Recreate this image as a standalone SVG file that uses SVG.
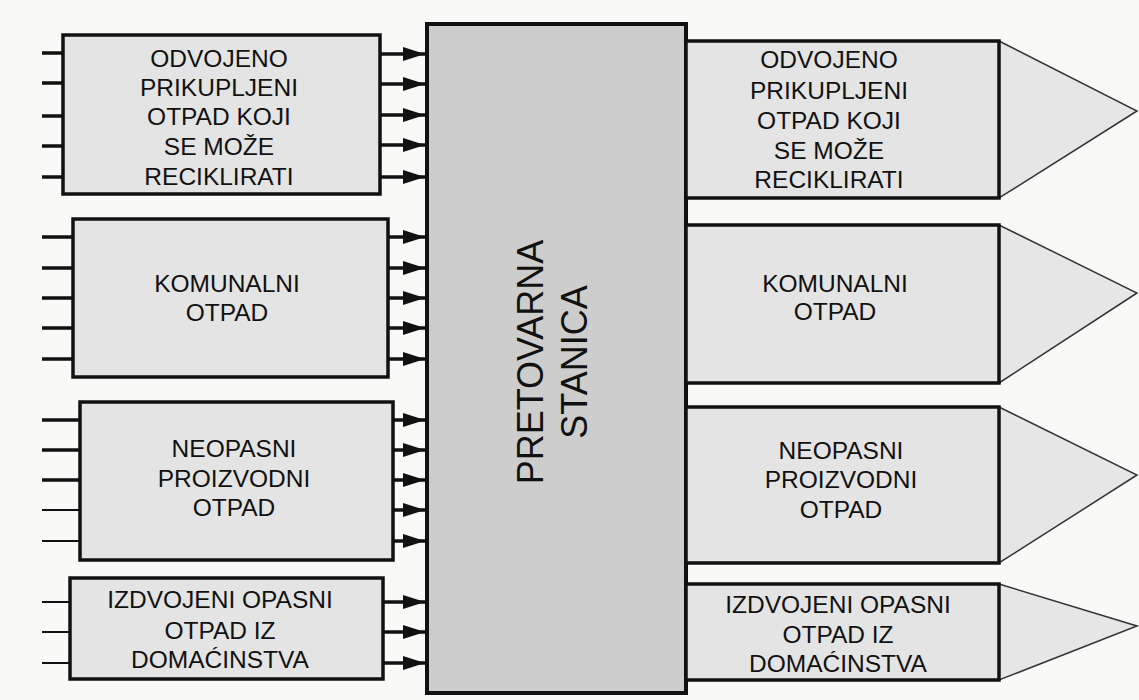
<svg xmlns="http://www.w3.org/2000/svg" width="1139" height="700" viewBox="0 0 1139 700">
<style>
.box{fill:#e4e4e4;stroke:#111;stroke-width:3.5}
.center{fill:#cdcdcd;stroke:#111;stroke-width:4}
.tri{fill:#e6e6e6;stroke:#333;stroke-width:1.5}
.lbl{font-family:"Liberation Sans",Arial,sans-serif;font-size:24.5px;fill:#111;text-anchor:middle}
.big{font-family:"Liberation Sans",Arial,sans-serif;font-size:36px;fill:#111;text-anchor:middle}
.stub{stroke:#111;stroke-width:3.5;fill:none}
.thin{stroke:#111;stroke-width:2.2;fill:none}
.arr{stroke:#111;stroke-width:3.5;fill:none;marker-end:url(#ah)}
</style>
<defs>
<marker id="ah" markerUnits="userSpaceOnUse" markerWidth="23" markerHeight="15" refX="22" refY="7" orient="auto">
<path d="M0,0 L22,7 L0,14 z" fill="#111"/>
</marker>
</defs>
<rect width="1139" height="700" fill="#f9f9f7"/>

<g id="center-node">
<rect class="center" x="427" y="24" width="259" height="669"/>
<text class="big" transform="translate(543,362) rotate(-90)">PRETOVARNA</text>
<text class="big" transform="translate(587,362) rotate(-90)">STANICA</text>
</g>

<g id="in1">
<rect class="box" x="63" y="35" width="317" height="159"/>
<text class="lbl" x="219" y="67">ODVOJENO</text>
<text class="lbl" x="219" y="96">PRIKUPLJENI</text>
<text class="lbl" x="219" y="125">OTPAD KOJI</text>
<text class="lbl" x="219" y="155">SE MOŽE</text>
<text class="lbl" x="219" y="185">RECIKLIRATI</text>
</g>
<g id="in2">
<rect class="box" x="73" y="219" width="315" height="158"/>
<text class="lbl" x="227" y="292">KOMUNALNI</text>
<text class="lbl" x="227" y="321">OTPAD</text>
</g>
<g id="in3">
<rect class="box" x="80" y="402" width="313" height="158"/>
<text class="lbl" x="234" y="457">NEOPASNI</text>
<text class="lbl" x="234" y="487">PROIZVODNI</text>
<text class="lbl" x="234" y="516">OTPAD</text>
</g>
<g id="in4">
<rect class="box" x="70" y="578" width="313" height="101"/>
<text class="lbl" x="220" y="608">IZDVOJENI OPASNI</text>
<text class="lbl" x="220" y="639">OTPAD IZ</text>
<text class="lbl" x="220" y="668">DOMAĆINSTVA</text>
</g>

<g id="out1">
<polygon class="tri" points="999,41 1137,111 999,198"/>
<rect class="box" x="686" y="41" width="313" height="157"/>
<text class="lbl" x="829" y="68">ODVOJENO</text>
<text class="lbl" x="829" y="99">PRIKUPLJENI</text>
<text class="lbl" x="829" y="129">OTPAD KOJI</text>
<text class="lbl" x="829" y="159">SE MOŽE</text>
<text class="lbl" x="829" y="188">RECIKLIRATI</text>
</g>
<g id="out2">
<polygon class="tri" points="999,225 1137,293 999,383"/>
<rect class="box" x="686" y="225" width="313" height="158"/>
<text class="lbl" x="835" y="292">KOMUNALNI</text>
<text class="lbl" x="835" y="320">OTPAD</text>
</g>
<g id="out3">
<polygon class="tri" points="999,407 1137,475 999,563"/>
<rect class="box" x="686" y="407" width="313" height="156"/>
<text class="lbl" x="841" y="459">NEOPASNI</text>
<text class="lbl" x="841" y="488">PROIZVODNI</text>
<text class="lbl" x="841" y="518">OTPAD</text>
</g>
<g id="out4">
<polygon class="tri" points="999,584 1137,626 999,680"/>
<rect class="box" x="686" y="584" width="313" height="96"/>
<text class="lbl" x="838" y="613">IZDVOJENI OPASNI</text>
<text class="lbl" x="838" y="643">OTPAD IZ</text>
<text class="lbl" x="838" y="672">DOMAĆINSTVA</text>
</g>

<g id="connectors">
<path class="stub" d="M42,53H63M42,83H63M42,116H63M42,146H63M42,177H63"/>
<path class="stub" d="M42,237H73M42,268H73M42,298H73M42,328H73M42,359H73"/>
<path class="stub" d="M42,420H80M42,450H80M42,480H80"/>
<path class="thin" d="M42,510H80M42,541H80"/>
<path class="thin" d="M42,602H70M42,632H70M42,663H70"/>
<line class="arr" x1="380" y1="54" x2="425" y2="54"/>
<line class="arr" x1="380" y1="84" x2="425" y2="84"/>
<line class="arr" x1="380" y1="115" x2="425" y2="115"/>
<line class="arr" x1="380" y1="145" x2="425" y2="145"/>
<line class="arr" x1="380" y1="177" x2="425" y2="177"/>
<line class="arr" x1="388" y1="237" x2="425" y2="237"/>
<line class="arr" x1="388" y1="268" x2="425" y2="268"/>
<line class="arr" x1="388" y1="298" x2="425" y2="298"/>
<line class="arr" x1="388" y1="328" x2="425" y2="328"/>
<line class="arr" x1="388" y1="359" x2="425" y2="359"/>
<line class="arr" x1="393" y1="420" x2="425" y2="420"/>
<line class="arr" x1="393" y1="450" x2="425" y2="450"/>
<line class="arr" x1="393" y1="480" x2="425" y2="480"/>
<line class="arr" x1="393" y1="510" x2="425" y2="510"/>
<line class="arr" x1="393" y1="541" x2="425" y2="541"/>
<line class="arr" x1="383" y1="602" x2="425" y2="602"/>
<line class="arr" x1="383" y1="632" x2="425" y2="632"/>
<line class="arr" x1="383" y1="663" x2="425" y2="663"/>
</g>
</svg>
